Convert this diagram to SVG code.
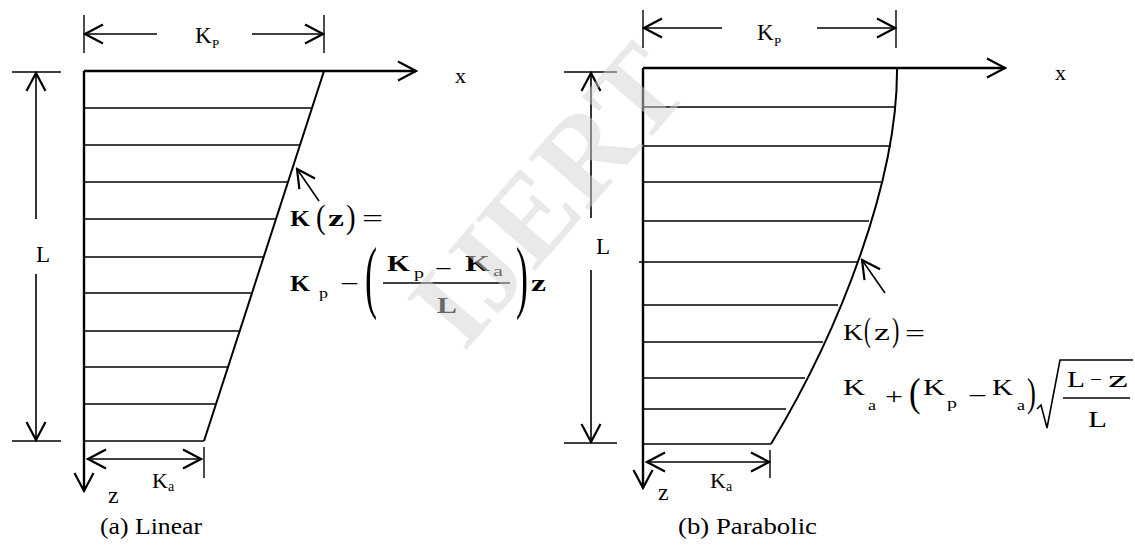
<svg xmlns="http://www.w3.org/2000/svg" width="1135" height="550" viewBox="0 0 1135 550">
<style>
.ln{stroke:#000;stroke-width:1.6;fill:none}
.ax{stroke:#000;stroke-width:2.4;fill:none}
.ed{stroke:#000;stroke-width:2;fill:none}
.tk{stroke:#000;stroke-width:1.4;fill:none}
.t{font-family:"Liberation Serif","Times New Roman",Times,serif;fill:#000}
.b{font-weight:bold}
.wm{font-family:"Liberation Serif","Times New Roman",Times,serif;font-weight:bold;fill:#d4d4d4;fill-opacity:0.5}
</style>
<defs>
<marker id="ah" viewBox="-22 -12 24 24" refX="0" refY="0" markerWidth="24" markerHeight="24" markerUnits="userSpaceOnUse" orient="auto-start-reverse">
<path d="M-18,-9.5 L0,0 L-18,9.5" fill="none" stroke="#000" stroke-width="2.2"/>
</marker>
</defs>
<rect width="1135" height="550" fill="#fff"/>

<g id="linear">
<g id="linear-shape">
<line class="ed" x1="324" y1="71" x2="204" y2="441"/>
<g class="ln">
<line x1="84" y1="108" x2="312" y2="108"/>
<line x1="84" y1="145" x2="300" y2="145"/>
<line x1="84" y1="182" x2="288" y2="182"/>
<line x1="84" y1="219" x2="276" y2="219"/>
<line x1="84" y1="257" x2="264" y2="257"/>
<line x1="84" y1="293" x2="252" y2="293"/>
<line x1="84" y1="331" x2="240" y2="331"/>
<line x1="84" y1="367" x2="228" y2="367"/>
<line x1="84" y1="404" x2="216" y2="404"/>
<line x1="84" y1="441" x2="204" y2="441"/>
</g>
</g>
<g id="linear-axes">
<line class="ax" x1="84" y1="71" x2="416" y2="71" marker-end="url(#ah)"/>
<line class="ax" x1="84" y1="71" x2="84" y2="491" marker-end="url(#ah)"/>
<text class="t" x="455" y="83" font-size="22">x</text>
<text class="t" x="108" y="503" font-size="24">z</text>
</g>
<g id="linear-kp">
<line class="tk" x1="84" y1="15" x2="84" y2="53"/>
<line class="tk" x1="324" y1="15" x2="324" y2="53"/>
<line class="ln" x1="157" y1="34" x2="85" y2="34" marker-end="url(#ah)"/>
<line class="ln" x1="252" y1="34" x2="323" y2="34" marker-end="url(#ah)"/>
<text class="t" x="195" y="43" font-size="23">K</text>
<text class="t" x="212" y="48" font-size="13">P</text>
</g>
<g id="linear-L">
<line class="tk" x1="12" y1="72" x2="61" y2="72"/>
<line class="tk" x1="12" y1="441" x2="61" y2="441"/>
<line class="ln" x1="36" y1="219" x2="36" y2="73" marker-end="url(#ah)"/>
<line class="ln" x1="36" y1="274" x2="36" y2="440" marker-end="url(#ah)"/>
<text class="t" x="36" y="262" font-size="23">L</text>
</g>
<g id="linear-ka">
<line class="tk" x1="204" y1="447" x2="204" y2="478"/>
<line class="ln" x1="88" y1="459" x2="201" y2="459" marker-start="url(#ah)" marker-end="url(#ah)"/>
<text class="t" x="152" y="488" font-size="22">K</text>
<text class="t" x="168" y="491" font-size="14">a</text>
</g>
<g id="linear-formula">
<line class="ln" x1="319" y1="201" x2="297" y2="169" marker-end="url(#ah)"/>
<text class="t b" x="290" y="226" font-size="24" textLength="20" lengthAdjust="spacingAndGlyphs">K</text>
<text class="t" transform="translate(316,228) scale(0.85,1)" font-size="34">(</text>
<text class="t b" x="328" y="226" font-size="24" textLength="16" lengthAdjust="spacingAndGlyphs">z</text>
<text class="t" transform="translate(346,228) scale(0.85,1)" font-size="34">)</text>
<text class="t" x="362" y="226" font-size="24" textLength="21" lengthAdjust="spacingAndGlyphs">=</text>
<text class="t b" x="290" y="291" font-size="24" textLength="20" lengthAdjust="spacingAndGlyphs">K</text>
<text class="t" x="319" y="298" font-size="14" textLength="9" lengthAdjust="spacingAndGlyphs">p</text>
<text class="t" x="340" y="291" font-size="22" textLength="19" lengthAdjust="spacingAndGlyphs">−</text>
<text class="t" transform="translate(365,303) scale(0.45,1)" font-size="80">(</text>
<text class="t b" x="387" y="271" font-size="24" textLength="23" lengthAdjust="spacingAndGlyphs">K</text>
<text class="t" x="414" y="278" font-size="14" textLength="10" lengthAdjust="spacingAndGlyphs">p</text>
<text class="t" x="435" y="276" font-size="22" textLength="17" lengthAdjust="spacingAndGlyphs">−</text>
<text class="t b" x="465" y="271" font-size="24" textLength="25" lengthAdjust="spacingAndGlyphs">K</text>
<text class="t" x="493" y="276" font-size="14" textLength="10" lengthAdjust="spacingAndGlyphs">a</text>
<line class="ln" x1="383" y1="283" x2="510" y2="283"/>
<text class="t b" x="437" y="313" font-size="24" textLength="20" lengthAdjust="spacingAndGlyphs">L</text>
<text class="t" transform="translate(516,303) scale(0.45,1)" font-size="80">)</text>
<text class="t b" x="531" y="291" font-size="24" textLength="15" lengthAdjust="spacingAndGlyphs">z</text>
</g>
<text id="linear-caption" class="t" x="100" y="534" font-size="24" textLength="102" lengthAdjust="spacingAndGlyphs">(a) Linear</text>
</g>

<g id="parabolic">
<g id="parabolic-shape">
<path class="ed" d="M897,68 C898,180 840,330 771,444"/>
<g class="ln">
<line x1="643" y1="107" x2="896" y2="107"/>
<line x1="643" y1="146" x2="891" y2="146"/>
<line x1="643" y1="182" x2="881" y2="182"/>
<line x1="643" y1="221" x2="869" y2="221"/>
<line x1="639" y1="262" x2="857" y2="262"/>
<line x1="643" y1="305" x2="838" y2="305"/>
<line x1="643" y1="342" x2="823" y2="342"/>
<line x1="643" y1="378" x2="805" y2="378"/>
<line x1="643" y1="409" x2="786" y2="409"/>
<line x1="643" y1="444" x2="771" y2="444"/>
</g>
</g>
<g id="parabolic-axes">
<line class="ax" x1="643" y1="68" x2="1005" y2="68" marker-end="url(#ah)"/>
<line class="ax" x1="643" y1="68" x2="643" y2="488" marker-end="url(#ah)"/>
<text class="t" x="1055" y="80" font-size="22">x</text>
<text class="t" x="658" y="500" font-size="24">z</text>
</g>
<g id="parabolic-kp">
<line class="tk" x1="643" y1="10" x2="643" y2="48"/>
<line class="tk" x1="896" y1="10" x2="896" y2="48"/>
<line class="ln" x1="722" y1="28" x2="644" y2="28" marker-end="url(#ah)"/>
<line class="ln" x1="817" y1="28" x2="895" y2="28" marker-end="url(#ah)"/>
<text class="t" x="757" y="40" font-size="23">K</text>
<text class="t" x="774" y="46" font-size="13">P</text>
</g>
<g id="parabolic-L">
<line class="tk" x1="564" y1="72" x2="617" y2="72"/>
<line class="tk" x1="564" y1="443" x2="617" y2="443"/>
<line class="ln" x1="591" y1="218" x2="591" y2="73" marker-end="url(#ah)"/>
<line class="ln" x1="591" y1="270" x2="591" y2="442" marker-end="url(#ah)"/>
<text class="t" x="596" y="254" font-size="23">L</text>
</g>
<g id="parabolic-ka">
<line class="tk" x1="770" y1="450" x2="770" y2="478"/>
<line class="ln" x1="647" y1="462" x2="769" y2="462" marker-start="url(#ah)" marker-end="url(#ah)"/>
<text class="t" x="710" y="488" font-size="22">K</text>
<text class="t" x="726" y="491" font-size="14">a</text>
</g>
<g id="parabolic-formula">
<line class="ln" x1="885" y1="293" x2="862" y2="260" marker-end="url(#ah)"/>
<text class="t" x="843" y="340" font-size="24" textLength="20" lengthAdjust="spacingAndGlyphs">K</text>
<text class="t" transform="translate(864,341) scale(0.6,1)" font-size="34">(</text>
<text class="t" x="874" y="340" font-size="24" textLength="16" lengthAdjust="spacingAndGlyphs">z</text>
<text class="t" transform="translate(892,341) scale(0.65,1)" font-size="34">)</text>
<text class="t" x="905" y="341" font-size="24" textLength="20" lengthAdjust="spacingAndGlyphs">=</text>
<text class="t" x="843" y="395" font-size="24" textLength="22" lengthAdjust="spacingAndGlyphs">K</text>
<text class="t" x="868" y="410" font-size="14" textLength="8" lengthAdjust="spacingAndGlyphs">a</text>
<text class="t" x="885" y="404" font-size="24" textLength="18" lengthAdjust="spacingAndGlyphs">+</text>
<text class="t" transform="translate(909,406) scale(0.85,1)" font-size="41">(</text>
<text class="t" x="923" y="395" font-size="24" textLength="22" lengthAdjust="spacingAndGlyphs">K</text>
<text class="t" x="947" y="408" font-size="14" textLength="10" lengthAdjust="spacingAndGlyphs">p</text>
<text class="t" x="968" y="403" font-size="22" textLength="19" lengthAdjust="spacingAndGlyphs">−</text>
<text class="t" x="992" y="395" font-size="24" textLength="21" lengthAdjust="spacingAndGlyphs">K</text>
<text class="t" x="1017" y="410" font-size="14" textLength="8" lengthAdjust="spacingAndGlyphs">a</text>
<text class="t" transform="translate(1027,406) scale(0.65,1)" font-size="41">)</text>
<path d="M1037,409 L1041,405 L1047,428 L1060,360 L1133,360" fill="none" stroke="#000" stroke-width="1.6"/>
<text class="t" x="1067" y="387" font-size="24" textLength="18" lengthAdjust="spacingAndGlyphs">L</text>
<text class="t" x="1090" y="386" font-size="20" textLength="12" lengthAdjust="spacingAndGlyphs">−</text>
<text class="t" x="1108" y="387" font-size="24" textLength="20" lengthAdjust="spacingAndGlyphs">z</text>
<line class="ln" x1="1063" y1="398" x2="1130" y2="398"/>
<text class="t" x="1088" y="427" font-size="24" textLength="19" lengthAdjust="spacingAndGlyphs">L</text>
</g>
<text id="parabolic-caption" class="t" x="678" y="534" font-size="24" textLength="139" lengthAdjust="spacingAndGlyphs">(b) Parabolic</text>
</g>

<g id="watermark" transform="translate(548,195) rotate(-49)">
<text class="wm" x="0" y="40" font-size="120" text-anchor="middle">IJERT</text>
</g>
</svg>
